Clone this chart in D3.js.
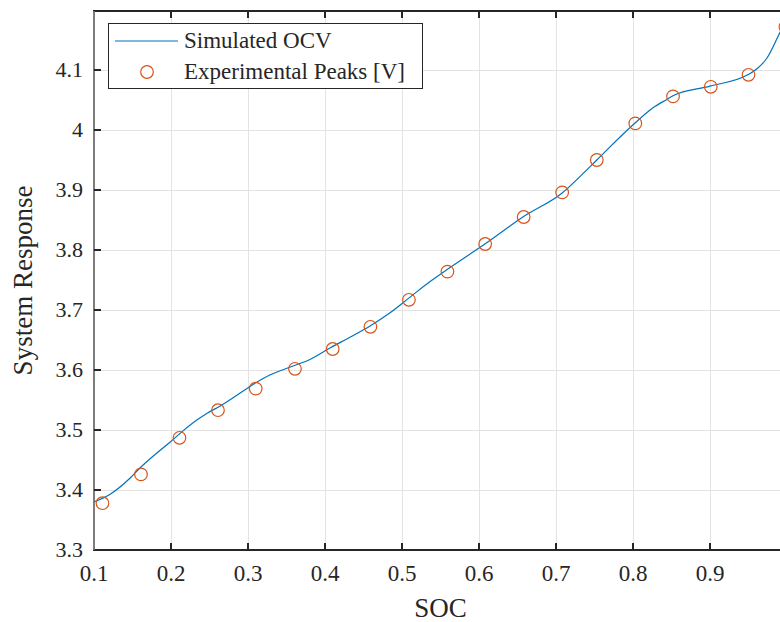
<!DOCTYPE html>
<html>
<head>
<meta charset="utf-8">
<script src="https://cdn.jsdelivr.net/npm/d3@7"></script>
<style>
  body { margin: 0; background: #fff; }
  svg text { font-family: "Liberation Serif", "DejaVu Serif", serif; fill: #262626; }
</style>
</head>
<body>
<svg id="chart"></svg>
<script>
// simulated OCV curve
const simSoc = [0.100, 0.121, 0.147, 0.160, 0.182, 0.199, 0.216, 0.234, 0.247, 0.264,
                0.281, 0.303, 0.329, 0.355, 0.381, 0.407, 0.433, 0.458, 0.484, 0.510,
                0.536, 0.558, 0.610, 0.657, 0.708, 0.738, 0.753, 0.803, 0.826, 0.844,
                0.852, 0.900, 0.949, 0.961, 0.974, 0.991, 1.000];
const simOcv = [3.380, 3.393, 3.420, 3.437, 3.462, 3.480, 3.499, 3.517, 3.528, 3.540,
                3.554, 3.573, 3.592, 3.605, 3.618, 3.637, 3.655, 3.673, 3.695, 3.721,
                3.747, 3.767, 3.812, 3.855, 3.895, 3.931, 3.950, 4.012, 4.037, 4.051,
                4.057, 4.073, 4.092, 4.102, 4.120, 4.163, 4.185];

// experimental peaks
const peakSoc = [0.111, 0.161, 0.211, 0.261, 0.310, 0.361, 0.410, 0.459, 0.509, 0.559,
                 0.608, 0.658, 0.708, 0.753, 0.803, 0.852, 0.901, 0.950, 0.998];
const peakV = [3.378, 3.426, 3.487, 3.533, 3.569, 3.602, 3.635, 3.672, 3.717, 3.764,
               3.810, 3.855, 3.896, 3.950, 4.011, 4.056, 4.072, 4.092, 4.172];

const xTicks = [0.1, 0.2, 0.3, 0.4, 0.5, 0.6, 0.7, 0.8, 0.9, 1.0];
const yTicks = [3.3, 3.4, 3.5, 3.6, 3.7, 3.8, 3.9, 4.0, 4.1];
const legendLabels = ["Simulated OCV", "Experimental Peaks [V]"];

const W = 780, H = 622;
const pL = 94, pR = 787, pT = 11, pB = 550;
const blue = "#0072BD", orange = "#D95319", ink = "#262626";

const svg = d3.select("#chart").attr("width", W).attr("height", H);

// axes run past the right edge of the picture (x = 1.0 sits just outside)
const x = d3.scaleLinear().domain([0.1, 1.0]).range([pL, pR]);
const y = d3.scaleLinear().domain([3.3, 4.2]).range([pB, pB - 540]);

svg.append("defs").append("clipPath").attr("id", "plot")
   .append("rect").attr("x", pL).attr("y", pT)
   .attr("width", pR - pL).attr("height", pB - pT);

// grid
const grid = svg.append("g").attr("stroke", "#e3e3e3").attr("stroke-width", 1);
grid.selectAll(".gx").data(xTicks.slice(1)).enter().append("line")
    .attr("x1", d => Math.round(x(d)) + 0.5).attr("x2", d => Math.round(x(d)) + 0.5)
    .attr("y1", pT).attr("y2", pB);
grid.selectAll(".gy").data(yTicks.slice(1)).enter().append("line")
    .attr("y1", d => Math.round(y(d)) + 0.5).attr("y2", d => Math.round(y(d)) + 0.5)
    .attr("x1", pL).attr("x2", pR);

// data
const plot = svg.append("g").attr("clip-path", "url(#plot)");
const line = d3.line()
    .x((d, i) => x(simSoc[i]))
    .y(d => y(d))
    .curve(d3.curveMonotoneX);
plot.append("path")
    .attr("d", line(simOcv))
    .attr("fill", "none")
    .attr("stroke", blue)
    .attr("stroke-width", 1.2);

svg.append("g").selectAll("circle").data(peakV).enter().append("circle")
    .attr("cx", (d, i) => x(peakSoc[i]))
    .attr("cy", d => y(d))
    .attr("r", 6.3)
    .attr("fill", "none")
    .attr("stroke", orange)
    .attr("stroke-width", 1.2);

// axes box + ticks (inward, all four sides)
const ax = svg.append("g").attr("stroke", ink).attr("fill", "none");
ax.append("line").attr("x1", pL - 1).attr("x2", pR).attr("y1", pB).attr("y2", pB).attr("stroke-width", 2);
ax.append("line").attr("x1", pL - 1).attr("x2", pR).attr("y1", pT).attr("y2", pT).attr("stroke-width", 2);
ax.append("line").attr("x1", pL).attr("x2", pL).attr("y1", pT).attr("y2", pB)
    .attr("stroke", "#6f6f6f").attr("stroke-width", 1.8);
ax.append("line").attr("x1", pR).attr("x2", pR).attr("y1", pT).attr("y2", pB).attr("stroke-width", 2);

const tl = 7;
xTicks.slice(1).forEach(t => {
    ax.append("line").attr("x1", x(t)).attr("x2", x(t)).attr("y1", pB).attr("y2", pB - tl).attr("stroke-width", 2);
    ax.append("line").attr("x1", x(t)).attr("x2", x(t)).attr("y1", pT).attr("y2", pT + tl).attr("stroke-width", 2);
});
yTicks.slice(1).forEach(t => {
    ax.append("line").attr("x1", pL).attr("x2", pL + tl).attr("y1", y(t)).attr("y2", y(t)).attr("stroke-width", 2);
    ax.append("line").attr("x1", pR).attr("x2", pR - tl).attr("y1", y(t)).attr("y2", y(t)).attr("stroke-width", 2);
});

// tick labels
const fmt = d => d3.format("")(+d.toFixed(1));
svg.append("g").selectAll("text").data(xTicks.filter(d => x(d) < W)).enter().append("text")
    .attr("x", d => x(d)).attr("y", 581)
    .attr("text-anchor", "middle").attr("font-size", 23)
    .text(fmt);
svg.append("g").selectAll("text").data(yTicks).enter().append("text")
    .attr("x", 83).attr("y", d => y(d) + 7)
    .attr("text-anchor", "end").attr("font-size", 22)
    .text(fmt);

// axis titles
svg.append("text").attr("x", (pL + pR) / 2).attr("y", 617)
    .attr("text-anchor", "middle").attr("font-size", 27).text("SOC");
svg.append("text").attr("transform", "translate(32," + (pT + pB) / 2 + ") rotate(-90)")
    .attr("text-anchor", "middle").attr("font-size", 27).text("System Response");

// legend
const lg = svg.append("g");
lg.append("rect").attr("x", 108.5).attr("y", 23.5).attr("width", 314).attr("height", 65)
    .attr("fill", "#fff").attr("stroke", ink).attr("stroke-width", 1);
lg.append("line").attr("x1", 115).attr("x2", 178).attr("y1", 41).attr("y2", 41)
    .attr("stroke", blue).attr("stroke-width", 1.2);
lg.append("circle").attr("cx", 147).attr("cy", 72).attr("r", 6.3)
    .attr("fill", "none").attr("stroke", orange).attr("stroke-width", 1.2);
lg.selectAll("text").data(legendLabels).enter().append("text")
    .attr("x", 184).attr("y", (d, i) => 48 + i * 31)
    .attr("font-size", 23)
    .text(d => d);
</script>
</body>
</html>
